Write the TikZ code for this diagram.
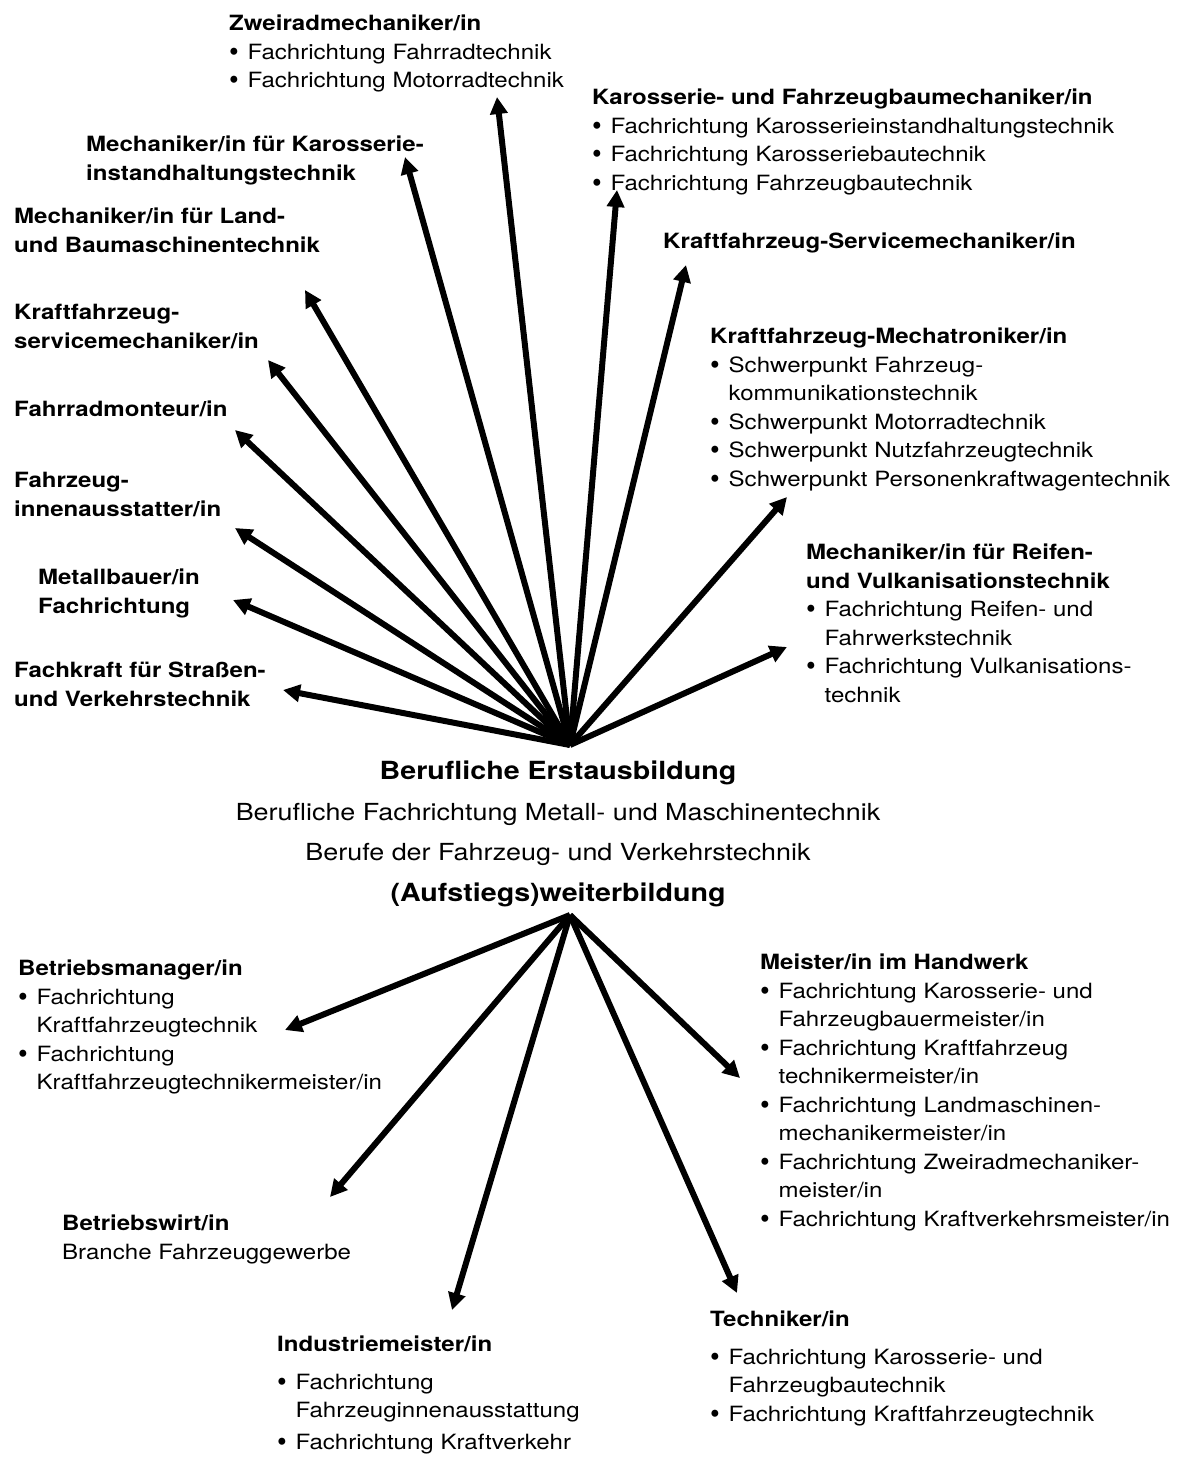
\documentclass[tikz,border=0pt]{standalone}
\usepackage{fontspec}
\setmainfont{TeX Gyre Heros}[FakeStretch=1.145]
\usetikzlibrary{arrows.meta}

\newcommand{\bl}{\makebox[18.5pt][l]{\raisebox{-0.1em}{\scalebox{1.15}[1.35]{\textbullet}}}}
\newcommand{\hi}{\hspace*{18.5pt}}

\tikzset{
  txt/.style={anchor=north west,inner sep=0pt,align=left,
    font=\fontsize{21}{28.5}\selectfont},
  hub/.style={anchor=base,inner sep=0pt,font=\fontsize{25}{30}\selectfont\bfseries},
  sub/.style={anchor=base,inner sep=0pt,font=\fontsize{23.5}{30}\selectfont},
  pfeil/.style={draw,line width=6pt,-{Triangle[length=17pt,width=17pt]}}
}

\begin{document}
\begin{tikzpicture}[x=1pt,y=-1pt]

        \useasboundingbox[fill=white] (0,0) rectangle (1185,1459);

        % Berufsbezeichnungen
        \begin{scope}[every node/.style={txt}]
          \node (z)   at (229,15)  {\textbf{Zweiradmechaniker/in}\\
                                    \bl Fachrichtung Fahrradtechnik\\
                                    \bl Fachrichtung Motorradtechnik};
          \node (kf)  at (592,89)  {\textbf{Karosserie- und Fahrzeugbaumechaniker/in}\\
                                    \bl Fachrichtung Karosserieinstandhaltungstechnik\\
                                    \bl Fachrichtung Karosseriebautechnik\\
                                    \bl Fachrichtung Fahrzeugbautechnik};
          \node (mk)  at (86,136)  {\textbf{Mechaniker/in für Karosserie-}\\
                                    \textbf{instandhaltungstechnik}};
          \node (ml)  at (14,208)  {\textbf{Mechaniker/in für Land-}\\
                                    \textbf{und Baumaschinentechnik}};
          \node (ks)  at (663,233) {\textbf{Kraftfahrzeug-Servicemechaniker/in}};
          \node (kss) at (14,304)  {\textbf{Kraftfahrzeug-}\\
                                    \textbf{servicemechaniker/in}};
          \node (mt)  at (710,328) {\textbf{Kraftfahrzeug-Mechatroniker/in}\\
                                    \bl Schwerpunkt Fahrzeug-\\
                                    \hi kommunikationstechnik\\
                                    \bl Schwerpunkt Motorradtechnik\\
                                    \bl Schwerpunkt Nutzfahrzeugtechnik\\
                                    \bl Schwerpunkt Personenkraftwagentechnik};
          \node (fm)  at (14,401)  {\textbf{Fahrradmonteur/in}};
          \node (fi)  at (14,472)  {\textbf{Fahrzeug-}\\
                                    \textbf{innenausstatter/in}};
          \node (mb)  at (38,569)  {\textbf{Metallbauer/in}\\
                                    \textbf{Fachrichtung}};
          \node (mr)  at (806,544) {\textbf{Mechaniker/in für Reifen-}\\
                                    \textbf{und Vulkanisationstechnik}\\
                                    \bl Fachrichtung Reifen- und\\
                                    \hi Fahrwerkstechnik\\
                                    \bl Fachrichtung Vulkanisations-\\
                                    \hi technik};
          \node (fs)  at (14,662)  {\textbf{Fachkraft für Straßen-}\\
                                    \textbf{und Verkehrstechnik}};

          \node (bm)  at (18,960)  {\textbf{Betriebsmanager/in}\\
                                    \bl Fachrichtung\\
                                    \hi Kraftfahrzeugtechnik\\
                                    \bl Fachrichtung\\
                                    \hi Kraftfahrzeugtechnikermeister/in};
          \node (me)  at (760,954) {\textbf{Meister/in im Handwerk}\\
                                    \bl Fachrichtung Karosserie- und\\
                                    \hi Fahrzeugbauermeister/in\\
                                    \bl Fachrichtung Kraftfahrzeug\\
                                    \hi technikermeister/in\\
                                    \bl Fachrichtung Landmaschinen-\\
                                    \hi mechanikermeister/in\\
                                    \bl Fachrichtung Zweiradmechaniker-\\
                                    \hi meister/in\\
                                    \bl Fachrichtung Kraftverkehrsmeister/in};
          \node (bw)  at (62,1215) {\textbf{Betriebswirt/in}\\
                                    Branche Fahrzeuggewerbe};
          \node (te)  at (710,1311) {\textbf{Techniker/in}\\[9pt]
                                    \bl Fachrichtung Karosserie- und\\
                                    \hi Fahrzeugbautechnik\\
                                    \bl Fachrichtung Kraftfahrzeugtechnik};
          \node (im)  at (277,1336) {\textbf{Industriemeister/in}\\[9pt]
                                    \bl Fachrichtung\\
                                    \hi Fahrzeuginnenausstattung\\[3pt]
                                    \bl Fachrichtung Kraftverkehr};
        \end{scope}

        % Mitte
        \node[hub] (eb) at (558,779) {Berufliche Erstausbildung};
        \node[sub] (s1) at (558,820) {Berufliche Fachrichtung Metall- und Maschinentechnik};
        \node[sub] (s2) at (558,860) {Berufe der Fahrzeug- und Verkehrstechnik};
        \node[hub] (wb) at (558,901) {(Aufstiegs)weiterbildung};

        \coordinate (o) at (570,745);
        \coordinate (u) at (570,915);

        % Pfeilspitzen
        \coordinate (t1)  at (497,97);
        \coordinate (t2)  at (617,190);
        \coordinate (t3)  at (686,265);
        \coordinate (t4)  at (787,497);
        \coordinate (t5)  at (787,647);
        \coordinate (t6)  at (405,157);
        \coordinate (t7)  at (305,290);
        \coordinate (t8)  at (268,360);
        \coordinate (t9)  at (235,430);
        \coordinate (t10) at (235,528);
        \coordinate (t11) at (233,600);
        \coordinate (t12) at (283,690);
        \coordinate (b1)  at (285,1030);
        \coordinate (b2)  at (330,1197);
        \coordinate (b3)  at (452,1310);
        \coordinate (b4)  at (737,1293);
        \coordinate (b5)  at (740,1078);

        \begin{scope}[every edge/.style={pfeil}]
          \foreach \t in {t1,t2,t3,t4,t5,t6,t7,t8,t9,t10,t11,t12}
            \path (o) edge (\t);
          \foreach \t in {b1,b2,b3,b4,b5}
            \path (u) edge (\t);
        \end{scope}

      \end{tikzpicture}
\end{document}
